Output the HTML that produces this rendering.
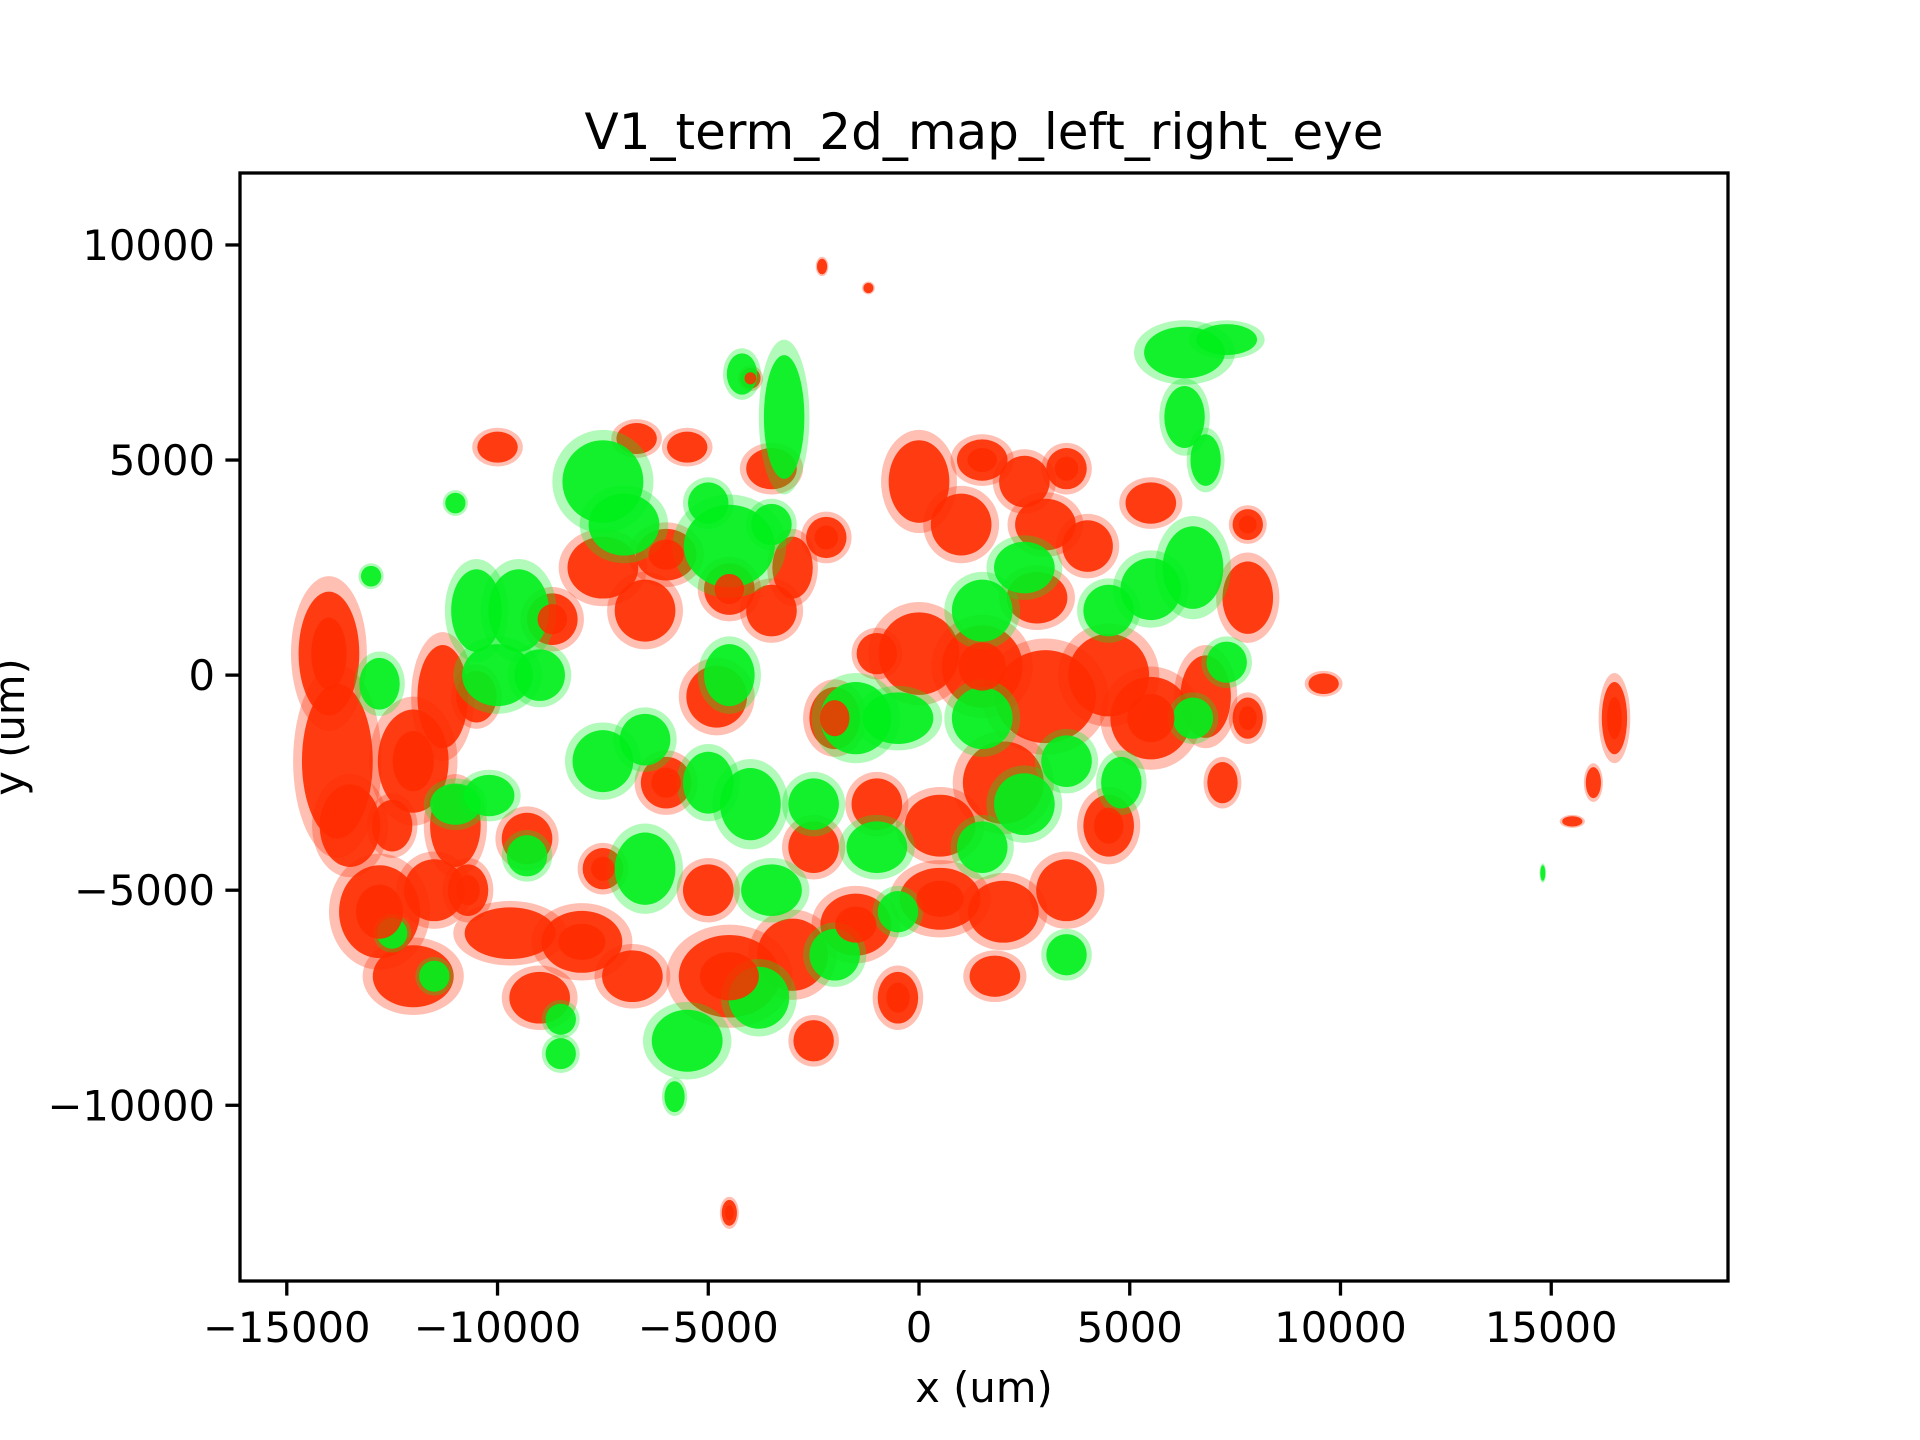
<!DOCTYPE html>
<html><head><meta charset="utf-8"><style>
html,body{margin:0;padding:0;background:#fff;width:1920px;height:1440px;overflow:hidden}
svg{display:block;font-family:"DejaVu Sans","Liberation Sans",sans-serif}
</style></head><body>
<svg id="chart" width="1920" height="1440" viewBox="0 0 1920 1440" xmlns="http://www.w3.org/2000/svg">
<text x="984" y="149" font-size="50" text-anchor="middle" fill="#000">V1_term_2d_map_left_right_eye</text>
<g id="plot"></g>
<rect x="240" y="173" width="1488" height="1108" fill="none" stroke="#000" stroke-width="3.3"/>
<g id="axes"></g>
<text x="984" y="1402" font-size="41.7" text-anchor="middle">x (um)</text>
<text transform="translate(24,727) rotate(-90)" font-size="41.7" text-anchor="middle">y (um)</text>
</svg>
<script>
// data in thousands of um: [x, y, rx, ry]
const redBlobs = [
[-14,0.5,0.6,1.2],[-13.8,-2,0.7,1.5],[-13.5,-3.5,0.6,0.8],[-12.8,-5.5,0.8,0.9],[-12,-7,0.8,0.6],[-11.5,-5,0.6,0.6],[-12,-2,0.7,1],[-11.3,-0.5,0.5,1],[-11,-3.5,0.5,0.8],[-10.7,-5,0.4,0.5],[-9.7,-6,0.9,0.5],[-9,-7.5,0.6,0.5],[-8,-6.2,0.8,0.6],[-6.8,-7,0.6,0.5],[-10,5.3,0.4,0.3],[-8.7,1.3,0.5,0.5],[-7.5,2.5,0.7,0.6],[-6.5,1.5,0.6,0.6],[-6,2.8,0.6,0.5],[-6.7,5.5,0.4,0.3],[-5.5,5.3,0.4,0.3],[-4.5,2,0.5,0.5],[-3.5,1.5,0.5,0.5],[-4.8,-0.5,0.6,0.6],[-6,-2.5,0.5,0.5],[-9.3,-3.8,0.5,0.5],[-5,-5,0.5,0.5],[-4.5,-7,1,0.8],[-3,-6.5,0.7,0.7],[-2.5,-4,0.5,0.5],[-1.5,-5.8,0.7,0.6],[-3.5,4.8,0.5,0.4],[-3,2.5,0.4,0.6],[-2.2,3.2,0.4,0.4],[0,4.5,0.6,0.8],[1,3.5,0.6,0.6],[1.5,5,0.5,0.4],[2.5,4.5,0.5,0.5],[3,3.5,0.6,0.5],[3.5,4.8,0.4,0.4],[4,3,0.5,0.5],[5.5,4,0.5,0.4],[7.8,3.5,0.3,0.3],[7.8,1.8,0.5,0.7],[6.8,-0.5,0.5,0.8],[7.8,-1,0.3,0.4],[7.2,-2.5,0.3,0.4],[0,0.5,0.8,0.8],[1.5,0.2,0.8,0.8],[3,-0.5,1,0.9],[4.5,0,0.8,0.8],[5.5,-1,0.8,0.8],[2,-2.5,0.8,0.8],[0.5,-3.5,0.7,0.6],[0.5,-5.2,0.8,0.6],[2,-5.5,0.7,0.6],[3.5,-5,0.6,0.6],[4.5,-3.5,0.5,0.6],[2.8,1.8,0.6,0.5],[-1,-3,0.5,0.5],[-2,-1,0.5,0.6],[-1,0.5,0.4,0.4],[1.8,-7,0.5,0.4],[-0.5,-7.5,0.4,0.5],[-2.5,-8.5,0.4,0.4],[-10.5,-0.5,0.4,0.5],[-7.5,-4.5,0.4,0.4],[-12.5,-3.5,0.4,0.5],[9.6,-0.2,0.3,0.2],[16.5,-1,0.25,0.7],[16,-2.5,0.15,0.3],[15.5,-3.4,0.2,0.1],[-4.5,-12.5,0.15,0.25],[-2.3,9.5,0.1,0.15],[-1.2,9,0.1,0.1],[-4,6.9,0.2,0.2]
];
const greenBlobs = [
[-7.5,4.5,0.8,0.8],[-7,3.5,0.7,0.6],[-4.5,3,0.9,0.8],[-3.2,6,0.4,1.2],[-3.5,3.5,0.4,0.4],[-5,4,0.4,0.4],[-9.5,1.5,0.6,0.8],[-10.5,1.5,0.5,0.8],[-10,0,0.7,0.6],[-9,0,0.5,0.5],[-12.8,-0.2,0.4,0.5],[-11,-3,0.5,0.4],[-10.2,-2.8,0.5,0.4],[-9.3,-4.2,0.4,0.4],[-7.5,-2,0.6,0.6],[-6.5,-1.5,0.5,0.5],[-6.5,-4.5,0.6,0.7],[-5,-2.5,0.5,0.6],[-4,-3,0.6,0.7],[-3.5,-5,0.6,0.5],[-2.5,-3,0.5,0.5],[-1.5,-1,0.7,0.7],[-0.5,-1,0.7,0.5],[1.5,-1,0.6,0.6],[1.5,1.5,0.6,0.6],[2.5,2.5,0.6,0.5],[4.5,1.5,0.5,0.5],[5.5,2,0.6,0.6],[6.5,2.5,0.6,0.8],[7.3,0.3,0.4,0.4],[6.5,-1,0.4,0.4],[2.5,-3,0.6,0.6],[3.5,-2,0.5,0.5],[4.8,-2.5,0.4,0.5],[1.5,-4,0.5,0.5],[-1,-4,0.6,0.5],[-0.5,-5.5,0.4,0.4],[-3.8,-7.5,0.6,0.6],[-5.5,-8.5,0.7,0.6],[-8.5,-8.8,0.3,0.3],[-8.5,-8,0.3,0.3],[3.5,-6.5,0.4,0.4],[6.3,7.5,0.8,0.5],[7.3,7.8,0.6,0.3],[6.3,6,0.4,0.6],[6.8,5,0.3,0.5],[-4.5,0,0.5,0.6],[-2,-6.5,0.5,0.5],[-12.5,-6,0.3,0.3],[-11.5,-7,0.3,0.3],[-13,2.3,0.2,0.2],[-11,4,0.2,0.2],[-4.2,7,0.3,0.4],[-5.8,-9.8,0.2,0.3],[14.8,-4.6,0.05,0.15]
];
const xTicks = [-15000,-10000,-5000,0,5000,10000,15000];
const yTicks = [-10000,-5000,0,5000,10000];
const xLabels = ["\u221215000","\u221210000","\u22125000","0","5000","10000","15000"];
const yLabels = ["\u221210000","\u22125000","0","5000","10000"];

const X0=240,X1=1728,Y0=173,Y1=1281;
const xMin=-16110,xMax=19194,yMin=-14085,yMax=11673;
const sx=v=>X0+(v-xMin)/(xMax-xMin)*(X1-X0);
const sy=v=>Y1-(v-yMin)/(yMax-yMin)*(Y1-Y0);
const ns="http://www.w3.org/2000/svg";
const plot=document.getElementById('plot');
const axes=document.getElementById('axes');
function blob(b,color,kind){
  const cx=sx(b[0]*1000),cy=sy(b[1]*1000);
  const rx=Math.abs(sx(b[2]*1000)-sx(0)),ry=Math.abs(sy(b[3]*1000)-sy(0));
  const h=document.createElementNS(ns,'ellipse');
  
  
  h.setAttribute('cx',cx);h.setAttribute('cy',cy);h.setAttribute('rx',rx*1.5);h.setAttribute('ry',ry*1.5);
  h.setAttribute('fill',color);h.setAttribute('fill-opacity','0.3');
  plot.appendChild(h);
  const e=document.createElementNS(ns,'ellipse');
  
  
  e.setAttribute('cx',cx);e.setAttribute('cy',cy);e.setAttribute('rx',rx*1.2);e.setAttribute('ry',ry*1.2);
  e.setAttribute('fill',color);e.setAttribute('fill-opacity','0.9');
  plot.appendChild(e);
}
redBlobs.forEach(b=>blob(b,'#ff2c00','right-eye'));
greenBlobs.forEach(b=>blob(b,'#00f01c','left-eye'));
redBlobs.forEach((b,i)=>{ if(i%3===0){
  const e=document.createElementNS(ns,'ellipse');
  
  
  e.setAttribute('cx',sx(b[0]*1000));e.setAttribute('cy',sy(b[1]*1000));
  e.setAttribute('rx',Math.abs(sx(b[2]*700)-sx(0)));e.setAttribute('ry',Math.abs(sy(b[3]*700)-sy(0)));
  e.setAttribute('fill','#ff2c00');e.setAttribute('fill-opacity','0.85');
  plot.appendChild(e);}});
xTicks.forEach((v,i)=>{
  const x=sx(v);
  const l=document.createElementNS(ns,'line');
  
  
  l.setAttribute('x1',x);l.setAttribute('x2',x);l.setAttribute('y1',Y1);l.setAttribute('y2',Y1+14.6);
  l.setAttribute('stroke','#000');l.setAttribute('stroke-width','3.3');axes.appendChild(l);
  const t=document.createElementNS(ns,'text');
  
  
  t.setAttribute('x',x);t.setAttribute('y',Y1+61);t.setAttribute('font-size','41.7');t.setAttribute('text-anchor','middle');
  t.textContent=xLabels[i];axes.appendChild(t);
});
yTicks.forEach((v,i)=>{
  const y=sy(v);
  const l=document.createElementNS(ns,'line');
  
  
  l.setAttribute('x1',X0-14.6);l.setAttribute('x2',X0);l.setAttribute('y1',y);l.setAttribute('y2',y);
  l.setAttribute('stroke','#000');l.setAttribute('stroke-width','3.3');axes.appendChild(l);
  const t=document.createElementNS(ns,'text');
  
  
  t.setAttribute('x',X0-25);t.setAttribute('y',y+15);t.setAttribute('font-size','41.7');t.setAttribute('text-anchor','end');
  t.textContent=yLabels[i];axes.appendChild(t);
});
</script>
</body></html>
